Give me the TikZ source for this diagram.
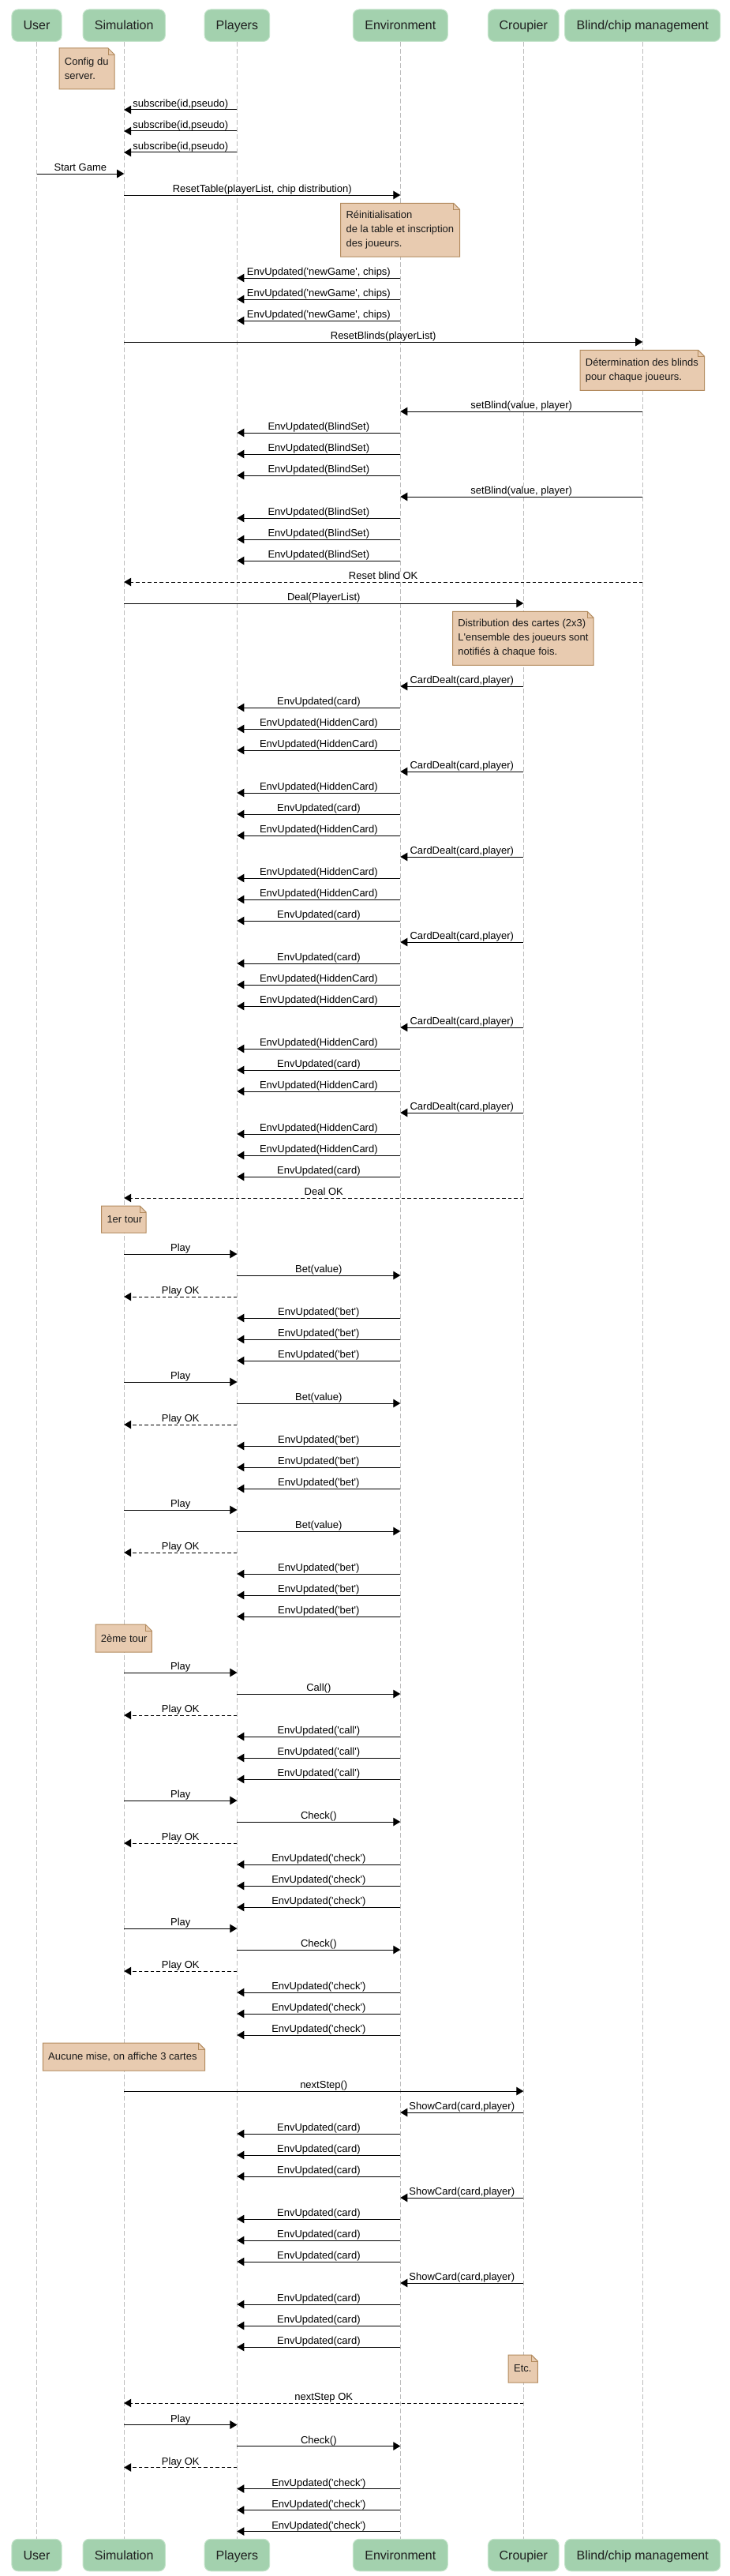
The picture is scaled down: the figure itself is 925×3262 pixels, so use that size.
\documentclass[tikz,border=0pt]{standalone}
\usepackage{fontspec}
\setmainfont{Liberation Sans}
\usetikzlibrary{arrows.meta}
\definecolor{hdrfill}{HTML}{A3D1AE}
\definecolor{hdrdraw}{HTML}{C4E4CB}
\definecolor{notefill}{HTML}{E8CBB0}
\definecolor{notedraw}{HTML}{B38B5E}
\definecolor{lifegray}{HTML}{BDBDBD}
\newcommand\myq{\textquotesingle}
\newcommand\msg[5]{\coordinate (m) at (0,#2); \draw[#1] (#3 |- m) -- (#4 |- m) node[lbl] {#5};}
\newcommand\notebox[6]{%
  \draw[notebg] (#2,#3) -- ({#4-8},#3) -- (#4,{#3+8}) -- (#4,#5) -- (#2,#5) -- cycle;
  \draw[notedraw, line width=0.8pt] ({#4-8},#3) -- ({#4-8},{#3+8}) -- (#4,{#3+8});
  \node[notetxt] (#1) at ({#2+6.7},{(#3+#5)/2}) {#6};}
\newcommand\dealgroup[5]{%
  \msg{call}{#1}{hC}{hE}{#2}
  \msg{call}{#1+27}{hE}{hP}{EnvUpdated(#3)}
  \msg{call}{#1+54}{hE}{hP}{EnvUpdated(#4)}
  \msg{call}{#1+81}{hE}{hP}{EnvUpdated(#5)}}
\newcommand\playcycle[3]{%
  \msg{call}{#1}{hS}{hP}{Play}
  \msg{call}{#1+27}{hP}{hE}{#2}
  \msg{reply}{#1+54}{hP}{hS}{Play OK}
  \msg{call}{#1+81}{hE}{hP}{EnvUpdated(\myq #3\myq)}
  \msg{call}{#1+108}{hE}{hP}{EnvUpdated(\myq #3\myq)}
  \msg{call}{#1+135}{hE}{hP}{EnvUpdated(\myq #3\myq)}}
\tikzset{
  hdr/.style={draw=hdrdraw, fill=hdrfill, line width=1pt, rounded corners=8pt,
    minimum height=40.5pt, inner sep=0pt, text height=11.5pt, text depth=0pt,
    font=\fontsize{16}{19}\selectfont, text=black!88},
  lifeline/.style={draw=lifegray, line width=1pt, dash pattern=on 6pt off 3pt},
  call/.style={draw=black, line width=1pt, -{Triangle[length=9pt,width=10.5pt]}},
  reply/.style={call, dash pattern=on 4.5pt off 3pt},
  lbl/.style={midway, anchor=base, yshift=3.4pt, font=\fontsize{13}{15}\selectfont,
    inner xsep=1pt, inner ysep=0pt, fill=white, text=black},
  notebg/.style={draw=notedraw, fill=notefill, line width=1pt},
  notetxt/.style={anchor=west, align=left, inner sep=0pt,
    font=\fontsize{13}{17.7}\selectfont, text=black!90},
}
\begin{document}
\begin{tikzpicture}[x=1pt,y=-1pt]
\useasboundingbox (0,0) rectangle (925,3262);
\fill[white] (0,0) rectangle (925,3262);
% headers
\node[hdr, minimum width=63.2pt]  (hU) at (46.5,32.2)  {User};
\node[hdr, minimum width=104.4pt] (hS) at (157.2,32.2) {Simulation};
\node[hdr, minimum width=82.6pt]  (hP) at (300.4,32.2) {Players};
\node[hdr, minimum width=120pt]   (hE) at (507.3,32.2) {Environment};
\node[hdr, minimum width=89.7pt]  (hC) at (663.3,32.2) {Croupier};
\node[hdr, minimum width=197pt]   (hB) at (814.2,32.2) {Blind/chip management};
% footers
\node[hdr, minimum width=63.2pt]  (fU) at (46.5,3235.5)  {User};
\node[hdr, minimum width=104.4pt] (fS) at (157.2,3235.5) {Simulation};
\node[hdr, minimum width=82.6pt]  (fP) at (300.4,3235.5) {Players};
\node[hdr, minimum width=120pt]   (fE) at (507.3,3235.5) {Environment};
\node[hdr, minimum width=89.7pt]  (fC) at (663.3,3235.5) {Croupier};
\node[hdr, minimum width=197pt]   (fB) at (814.2,3235.5) {Blind/chip management};
% lifelines
\draw[lifeline] (hU.south) -- (fU.north);
\draw[lifeline] (hS.south) -- (fS.north);
\draw[lifeline] (hP.south) -- (fP.north);
\draw[lifeline] (hE.south) -- (fE.north);
\draw[lifeline] (hC.south) -- (fC.north);
\draw[lifeline] (hB.south) -- (fB.north);
% notes and messages
\notebox{nConfig}{75}{61}{145}{113}{Config du\\server.}
\msg{call}{139}{hP}{hS}{subscribe(id,pseudo)}
\msg{call}{166}{hP}{hS}{subscribe(id,pseudo)}
\msg{call}{193}{hP}{hS}{subscribe(id,pseudo)}
\msg{call}{220}{hU}{hS}{Start Game}
\msg{call}{247}{hS}{hE}{ResetTable(playerList, chip distribution)}
\notebox{nReinit}{431.7}{257.3}{582.7}{325}{Réinitialisation\\de la table et inscription\\des joueurs.}
\msg{call}{352}{hE}{hP}{EnvUpdated(\myq newGame\myq, chips)}
\msg{call}{379}{hE}{hP}{EnvUpdated(\myq newGame\myq, chips)}
\msg{call}{406}{hE}{hP}{EnvUpdated(\myq newGame\myq, chips)}
\msg{call}{433}{hS}{hB}{ResetBlinds(playerList)}
\notebox{nBlinds}{735}{443.3}{892.7}{494.3}{Détermination des blinds\\pour chaque joueurs.}
\msg{call}{521}{hB}{hE}{setBlind(value, player)}
\msg{call}{548}{hE}{hP}{EnvUpdated(BlindSet)}
\msg{call}{575}{hE}{hP}{EnvUpdated(BlindSet)}
\msg{call}{602}{hE}{hP}{EnvUpdated(BlindSet)}
\msg{call}{629}{hB}{hE}{setBlind(value, player)}
\msg{call}{656}{hE}{hP}{EnvUpdated(BlindSet)}
\msg{call}{683}{hE}{hP}{EnvUpdated(BlindSet)}
\msg{call}{710}{hE}{hP}{EnvUpdated(BlindSet)}
\msg{reply}{737}{hB}{hS}{Reset blind OK}
\msg{call}{764}{hS}{hC}{Deal(PlayerList)}
\notebox{nDistrib}{573.5}{774.3}{752.2}{842.3}{Distribution des cartes (2x3)\\L\myq ensemble des joueurs sont\\notifiés à chaque fois.}
\dealgroup{869}{CardDealt(card,player)}{card}{HiddenCard}{HiddenCard}
\dealgroup{977}{CardDealt(card,player)}{HiddenCard}{card}{HiddenCard}
\dealgroup{1085}{CardDealt(card,player)}{HiddenCard}{HiddenCard}{card}
\dealgroup{1193}{CardDealt(card,player)}{card}{HiddenCard}{HiddenCard}
\dealgroup{1301}{CardDealt(card,player)}{HiddenCard}{card}{HiddenCard}
\dealgroup{1409}{CardDealt(card,player)}{HiddenCard}{HiddenCard}{card}
\msg{reply}{1517}{hC}{hS}{Deal OK}
\notebox{nTour1}{128.6}{1527}{185.2}{1561}{1er tour}
\playcycle{1588}{Bet(value)}{bet}
\playcycle{1750}{Bet(value)}{bet}
\playcycle{1912}{Bet(value)}{bet}
\notebox{nTour2}{121}{2057}{192.3}{2092}{2ème tour}
\playcycle{2118}{Call()}{call}
\playcycle{2280}{Check()}{check}
\playcycle{2442}{Check()}{check}
\notebox{nAucune}{54.3}{2587}{259.6}{2622}{Aucune mise, on affiche 3 cartes}
\msg{call}{2648}{hS}{hC}{nextStep()}
\dealgroup{2675}{ShowCard(card,player)}{card}{card}{card}
\dealgroup{2783}{ShowCard(card,player)}{card}{card}{card}
\dealgroup{2891}{ShowCard(card,player)}{card}{card}{card}
\notebox{nEtc}{644.2}{2982}{681.4}{3017}{Etc.}
\msg{reply}{3043}{hC}{hS}{nextStep OK}
\playcycle{3070.5}{Check()}{check}
\end{tikzpicture}
\end{document}
